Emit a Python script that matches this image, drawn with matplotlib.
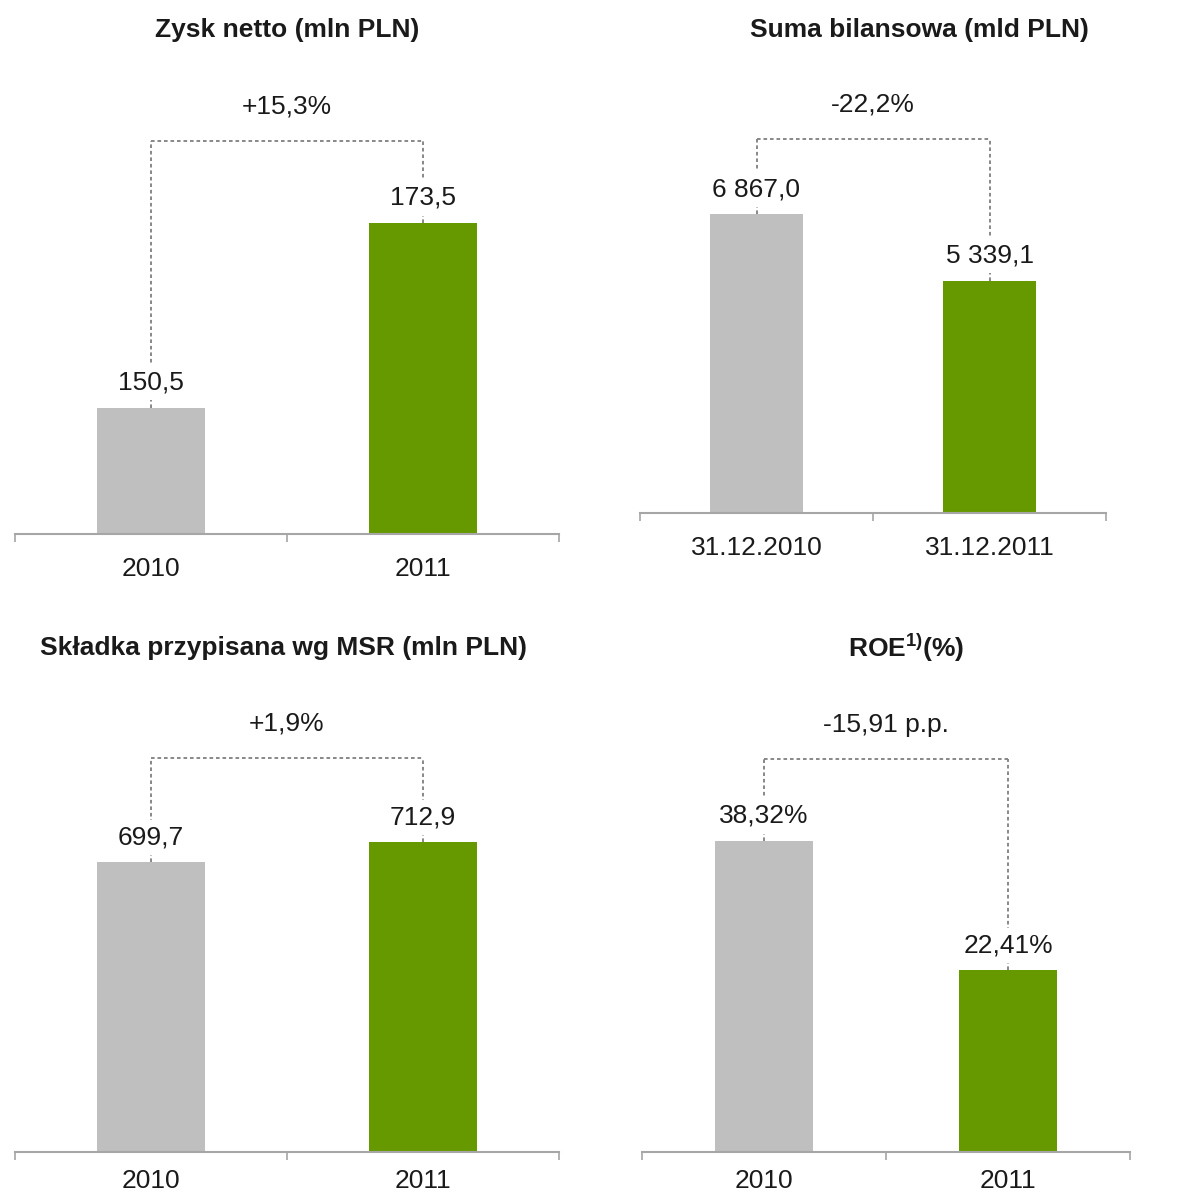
import matplotlib.pyplot as plt

plt.rcParams['font.family'] = ['Liberation Sans', 'DejaVu Sans']
plt.rcParams['mathtext.fontset'] = 'custom'
plt.rcParams['mathtext.rm'] = 'Liberation Sans'
plt.rcParams['mathtext.bf'] = 'Liberation Sans:bold'

# data
titles = ['Zysk netto (mln PLN)', 'Suma bilansowa (mld PLN)',
          'Składka przypisana wg MSR (mln PLN)', r'ROE$^{\mathbf{1)}}$(%)']
cats_year = ['2010', '2011']
cats_date = ['31.12.2010', '31.12.2011']
zysk = [150.5, 173.5]
suma = [6867.0, 5339.1]
skladka = [699.7, 712.9]
roe = [38.32, 22.41]
zysk_lbl = ['150,5', '173,5']
suma_lbl = ['6 867,0', '5 339,1']
skladka_lbl = ['699,7', '712,9']
roe_lbl = ['38,32%', '22,41%']
changes = ['+15,3%', '-22,2%', '+1,9%', '-15,91 p.p.']

GRAY = '#BFBFBF'
GREEN = '#669900'
TXT = '#1a1a1a'
AX = '#A6A6A6'
DASH = '#7f7f7f'

W, H = 1182, 1196
fig = plt.figure(figsize=(W / 100, H / 100), dpi=100)


def px_axes(x0, x1, ybase, ytop):
    return fig.add_axes([x0 / W, (H - ybase) / H, (x1 - x0) / W, (ybase - ytop) / H])


panels = [
    # (box px, ylim, cats, values, labels, change, title, title pos, tick pad)
    ((15, 559, 534, 141), (134.8, 183.7), cats_year, zysk, zysk_lbl, changes[0], titles[0], (287, 30), 16.5),
    ((640, 1106, 513, 139), (0, 8590), cats_date, suma, suma_lbl, changes[1], titles[1], (919, 30), 16.5),
    ((15, 559, 1152, 758), (508.3, 768.4), cats_year, skladka, skladka_lbl, changes[2], titles[2], (283, 648), 12),
    ((642, 1130, 1152, 759), (0, 48.42), cats_year, roe, roe_lbl, changes[3], titles[3], (906, 648), 12),
]

for box, ylim, cats, vals, lbls, chg, title, tpos, tpad in panels:
    ax = px_axes(*box)
    ax.set_xlim(-0.5, 1.5)
    ax.set_ylim(*ylim)
    ax.bar([0, 1], vals, width=0.4, color=[GRAY, GREEN], zorder=2)
    top = ylim[1]
    # dashed connectors
    for i, v in enumerate(vals):
        ax.plot([i, i], [v, top], color=DASH, lw=1.3, ls=(0, (2, 1.6)), clip_on=False, zorder=1)
        ax.annotate(lbls[i], (i, v), xytext=(0, 18), textcoords='offset points',
                    ha='center', va='center', fontsize=19, color=TXT, zorder=3,
                    bbox=dict(facecolor='white', edgecolor='none', pad=4))
    ax.plot([0, 1], [top, top], color=DASH, lw=1.3, ls=(0, (2, 1.6)), clip_on=False, zorder=1)
    ax.annotate(chg, (0.5, top), xytext=(0, 24.5), textcoords='offset points',
                ha='center', va='center', fontsize=19, color=TXT, annotation_clip=False)

    for s in ['top', 'left', 'right']:
        ax.spines[s].set_visible(False)
    ax.spines['bottom'].set_color(AX)
    ax.spines['bottom'].set_linewidth(1.5)
    ax.set_yticks([])
    ax.set_xticks([0, 1])
    ax.set_xticklabels(cats, fontsize=19, color=TXT)
    ax.tick_params(axis='x', which='major', length=0, pad=tpad)
    ax.set_xticks([-0.5, 0.5, 1.5], minor=True)
    ax.tick_params(axis='x', which='minor', length=6, width=1.2, color=AX, direction='out')

    fig.text(tpos[0] / W, 1 - tpos[1] / H, title, ha='center', va='center',
             fontsize=19, fontweight='bold', color=TXT)

fig.savefig('out.png', dpi=100, facecolor='white')
